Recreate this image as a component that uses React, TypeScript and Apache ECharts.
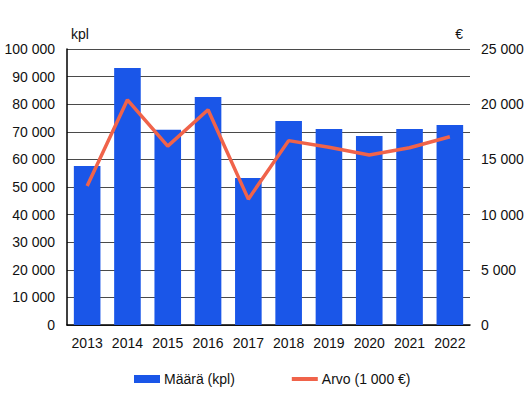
import React, { useEffect, useRef } from "react";
import * as echarts from "echarts";

const years = ["2013", "2014", "2015", "2016", "2017", "2018", "2019", "2020", "2021", "2022"];
const maara = [57600, 93100, 70700, 82600, 53300, 73900, 71000, 68500, 71000, 72500];
const arvo = [12600, 20400, 16200, 19500, 11400, 16700, 16100, 15400, 16050, 17050];

const fmt = (v: number) => String(v).replace(/\B(?=(\d{3})+(?!\d))/g, " ");
const FONT = "Liberation Sans, Arial, sans-serif";
const TXT = "#111";

export default function App() {
  const ref = useRef<HTMLDivElement>(null);
  useEffect(() => {
    if (!ref.current) return;
    const chart = echarts.init(ref.current, undefined, { renderer: "svg" });
    chart.setOption({
      animation: false,
      textStyle: { fontFamily: FONT },
      grid: { left: 67, right: 59, top: 49, bottom: 72, containLabel: false },
      legend: {
        left: 129,
        top: 367,
        itemWidth: 26,
        itemHeight: 8,
        itemGap: 57,
        textStyle: { fontSize: 14, color: TXT, fontFamily: FONT, padding: [0, 0, 0, -1] },
        data: [
          { name: "Määrä (kpl)", icon: "rect" },
          { name: "Arvo (1 000 €)", icon: "path://M0,0 L26,0 L26,4 L0,4 Z" },
        ],
      },
      xAxis: {
        type: "category",
        data: years,
        axisLine: { lineStyle: { color: "#000", width: 1.5 } },
        axisTick: { show: false },
        axisLabel: { interval: 0, fontSize: 14, color: TXT, margin: 11, fontFamily: FONT },
      },
      yAxis: [
        {
          type: "value",
          min: 0,
          max: 100000,
          interval: 10000,
          name: "kpl",
          nameLocation: "end",
          nameGap: 8,
          nameTextStyle: { fontSize: 14, color: TXT, align: "left", padding: [0, 0, 0, 4], fontFamily: FONT },
          axisLine: { show: true, lineStyle: { color: "#000", width: 1.5 } },
          axisTick: { show: false },
          axisLabel: { fontSize: 14, color: TXT, margin: 12, formatter: (v: number) => fmt(v), fontFamily: FONT },
          splitLine: { show: true, lineStyle: { color: "#4a4a4a", width: 1 } },
        },
        {
          type: "value",
          min: 0,
          max: 25000,
          interval: 5000,
          name: "€",
          nameLocation: "end",
          nameGap: 8,
          nameTextStyle: { fontSize: 14, color: TXT, align: "right", padding: [0, 7, 0, 0], fontFamily: FONT },
          axisLine: { show: false },
          axisTick: { show: false },
          axisLabel: { fontSize: 14, color: TXT, margin: 11, formatter: (v: number) => fmt(v), fontFamily: FONT },
          splitLine: { show: false },
        },
      ],
      series: [
        {
          name: "Määrä (kpl)",
          type: "bar",
          data: maara,
          barWidth: "66%",
          itemStyle: { color: "#1A56E8" },
          yAxisIndex: 0,
        },
        {
          name: "Arvo (1 000 €)",
          type: "line",
          data: arvo,
          yAxisIndex: 1,
          symbol: "none",
          lineStyle: { color: "#F0634A", width: 3.5 },
          itemStyle: { color: "#F0634A" },
        },
      ],
    });
    return () => chart.dispose();
  }, []);
  return (
    <div
      ref={ref}
      style={{ position: "fixed", left: 0, top: 0, width: 529, height: 397, background: "#fff" }}
    />
  );
}
